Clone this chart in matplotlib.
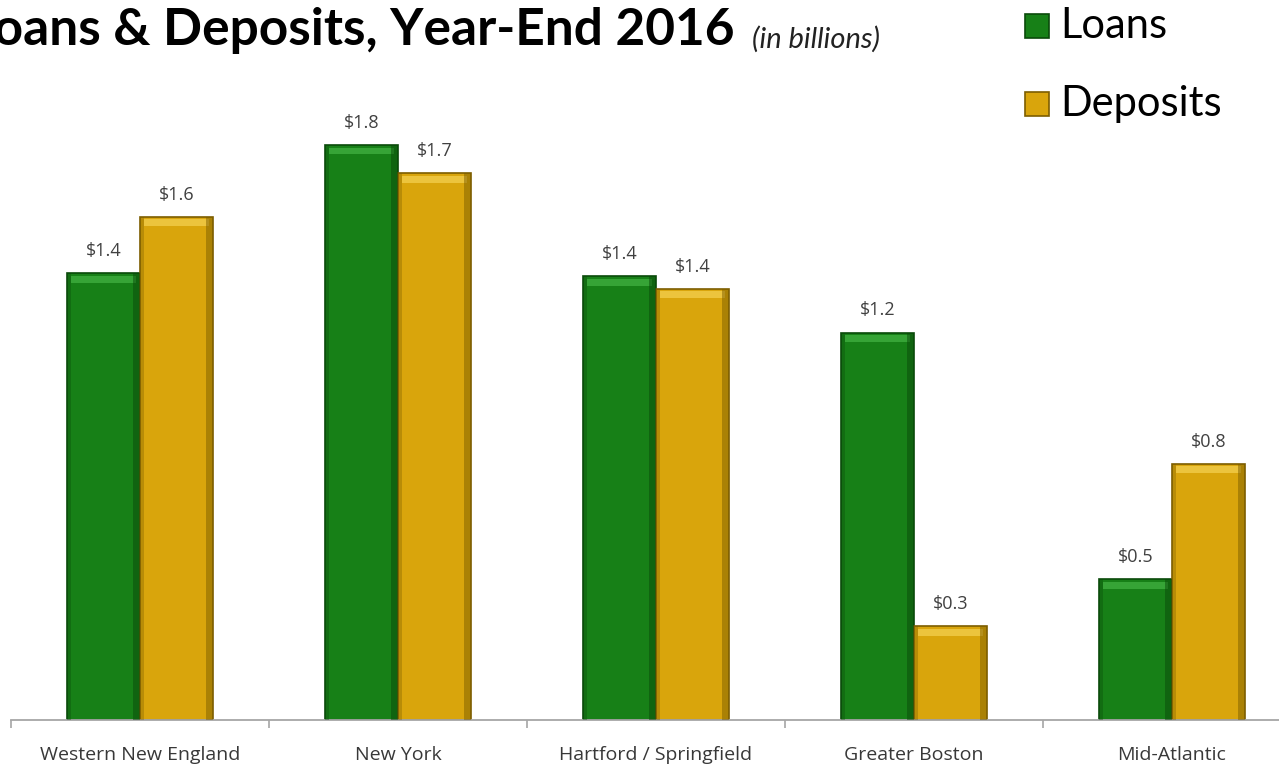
import matplotlib
matplotlib.use("Agg")
import matplotlib.pyplot as plt
from matplotlib.patches import Rectangle
import numpy as np

categories = ["Western New England", "New York", "Hartford / Springfield", "Greater Boston", "Mid-Atlantic"]
loans = [1.43, 1.84, 1.42, 1.24, 0.45]
deposits = [1.61, 1.75, 1.38, 0.30, 0.82]
loan_labels = ["$1.4", "$1.8", "$1.4", "$1.2", "$0.5"]
deposit_labels = ["$1.6", "$1.7", "$1.4", "$0.3", "$0.8"]

W, H = 1279, 766
fig = plt.figure(figsize=(W / 100, H / 100), dpi=100)
fig.patch.set_facecolor("white")

ax_left, ax_right = 11, 1279
ax_bottom, ax_top = 720, 100
ax = fig.add_axes([ax_left / W, (H - ax_bottom) / H, (ax_right - ax_left) / W, (ax_bottom - ax_top) / H])

FONT = ["Lato", "DejaVu Sans"]
SMALL = ["Open Sans", "DejaVu Sans"]
green, green_dark, green_light = "#178017", "#0a4a0a", "#3fae3f"
gold, gold_dark, gold_light = "#d9a50c", "#7d5e00", "#f2cd4a"

x = np.arange(len(categories))
bw = 0.283
for xs, vals, c, cd, cl in [(x - bw / 2, loans, green, green_dark, green_light),
                            (x + bw / 2, deposits, gold, gold_dark, gold_light)]:
    bars = ax.bar(xs, vals, width=bw, color=c, edgecolor=cd, linewidth=1.2, zorder=2)
    for b in bars:
        bx, by, bwid, bh = b.get_x(), b.get_y(), b.get_width(), b.get_height()
        ax.add_patch(Rectangle((bx + bwid * 0.05, bh - 0.03), bwid * 0.9, 0.022,
                               facecolor=cl, edgecolor="none", alpha=0.8, zorder=3))
        ax.add_patch(Rectangle((bx + bwid * 0.9, by), bwid * 0.1, bh,
                               facecolor=cd, edgecolor="none", alpha=0.5, zorder=3))
        ax.add_patch(Rectangle((bx, by), bwid * 0.06, bh,
                               facecolor=cd, edgecolor="none", alpha=0.35, zorder=3))

for xs, vals, labs in [(x - bw / 2, loans, loan_labels), (x + bw / 2, deposits, deposit_labels)]:
    for xi, v, lab in zip(xs, vals, labs):
        ax.annotate(lab, (xi, v), xytext=(0, 13), textcoords="offset pixels",
                    ha="center", va="bottom", fontsize=13, color="#404040", family=SMALL)

for s in ["top", "right", "left"]:
    ax.spines[s].set_visible(False)
ax.spines["bottom"].set_color("#a6a6a6")
ax.spines["bottom"].set_linewidth(1.3)
ax.set_yticks([])
ax.set_xticks(np.arange(-0.5, 5, 1.0), minor=False)
ax.set_xticklabels([])
ax.tick_params(axis="x", which="major", length=6, color="#a6a6a6", width=1.2)
ax.set_xticks(x, minor=True)
ax.set_xticklabels(categories, minor=True, fontsize=14, color="#383838", family=SMALL)
ax.tick_params(axis="x", which="minor", length=0, pad=19)
ax.set_xlim(-0.5, (ax_right - ax_left) / 258 - 0.5)
ax.set_ylim(0, (ax_bottom - ax_top) / 312.5)

# Title (cut off at the left edge like the reference)
fig.text(735 / W, 1 - 31 / H, "Loans & Deposits, Year-End 2016", ha="right", va="center",
         fontsize=37, fontweight="bold", color="black", family=FONT)
fig.text(752 / W, 1 - 39 / H, "(in billions)", ha="left", va="center",
         fontsize=21, style="italic", color="#222222", family=FONT)

# Legend
for yy, c, cd, lab in [(26, green, green_dark, "Loans"), (104, gold, gold_dark, "Deposits")]:
    fig.patches.append(Rectangle((1025 / W, 1 - (yy + 12) / H), 24 / W, 24 / H,
                                 transform=fig.transFigure, facecolor=c, edgecolor=cd,
                                 linewidth=1.2))
    fig.text(1060 / W, 1 - yy / H, lab, ha="left", va="center", fontsize=30,
             color="black", family=FONT)

fig.savefig("out.png", dpi=100, facecolor="white")
